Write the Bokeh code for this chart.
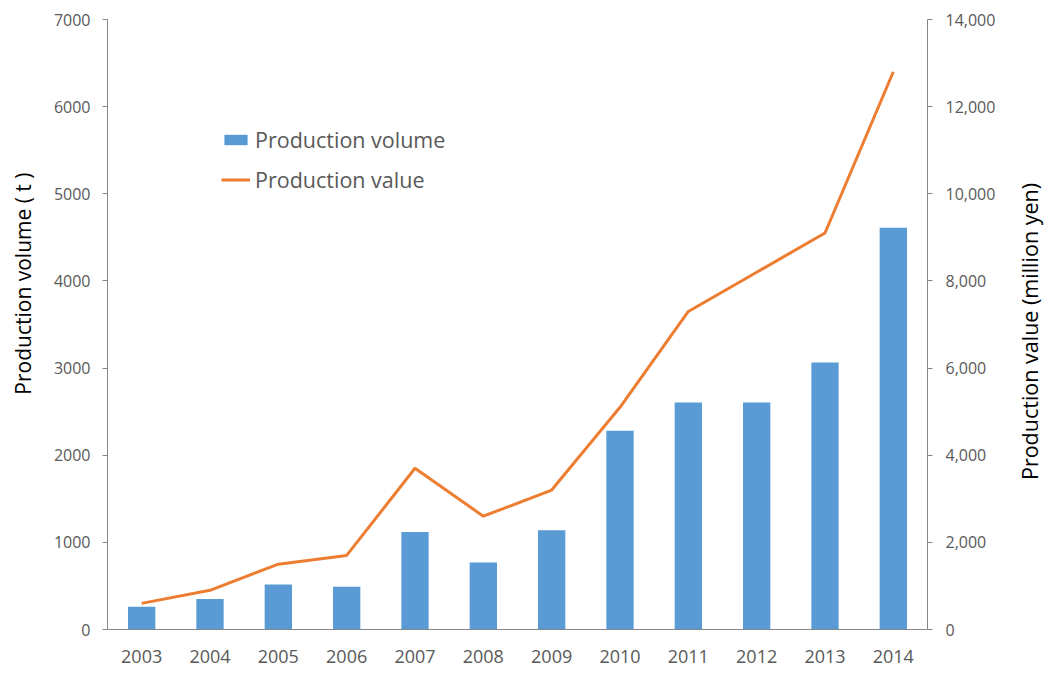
import math
from bokeh.plotting import figure
from bokeh.models import (FactorRange, Range1d, LinearAxis, FixedTicker, NumeralTickFormatter,
                          Legend, LegendItem, ColumnDataSource, Label)
from bokeh.embed import file_html
from bokeh.resources import INLINE

years = ["2003", "2004", "2005", "2006", "2007", "2008", "2009", "2010", "2011", "2012", "2013", "2014"]
volume_t = [260, 350, 517, 490, 1120, 770, 1140, 2280, 2605, 2605, 3065, 4610]
value_million_yen = [600, 900, 1500, 1700, 3700, 2600, 3200, 5100, 7300, 8200, 9100, 12800]
left_ticks = [0, 1000, 2000, 3000, 4000, 5000, 6000, 7000]
right_ticks = [0, 2000, 4000, 6000, 8000, 10000, 12000, 14000]
left_title = "Production volume ( t )"
right_title = "Production value (million yen)"

FONT = "Open Sans"
TICK_COLOR = "#595959"
AXIS_COLOR = "#868686"
BLUE = "#5B9BD5"
ORANGE = "#ED7D31"
NBSP = "\u00a0"

src = ColumnDataSource(dict(year=years, vol=volume_t, val=value_million_yen))

W, H = 1050, 672
p = figure(width=W, height=H, x_range=FactorRange(*years, range_padding=0),
           y_range=Range1d(0, 7000), output_backend="svg", toolbar_location=None,
           min_border_left=107, min_border_right=W - 927, min_border_top=19, min_border_bottom=H - 629)
p.extra_y_ranges = {"right": Range1d(0, 14000)}
p.outline_line_color = None
p.xgrid.visible = False
p.ygrid.visible = False

bars = p.vbar(x="year", top="vol", width=0.4, source=src, fill_color=BLUE, line_color=None)
line = p.line(x="year", y="val", source=src, y_range_name="right", line_color=ORANGE, line_width=3)

def style(ax):
    ax.axis_line_color = AXIS_COLOR
    ax.major_tick_line_color = AXIS_COLOR
    ax.minor_tick_line_color = None
    ax.major_tick_in = 0
    ax.major_tick_out = 5
    ax.major_label_text_font = FONT
    ax.major_label_text_font_size = "16px"
    ax.major_label_text_color = TICK_COLOR
    ax.axis_label_text_font = FONT
    ax.axis_label_text_font_style = "normal"
    ax.axis_label_text_color = "#000000"

xa = p.xaxis[0]
style(xa)
xa.major_tick_out = 0
xa.major_label_text_font_size = "18px"
xa.major_label_standoff = 20

ya = p.yaxis[0]
style(ya)
ya.ticker = FixedTicker(ticks=left_ticks)
ya.major_label_standoff = 12
ya.axis_label = NBSP * 15 + left_title
ya.axis_label_text_font_size = "21px"
ya.axis_label_standoff = 14

ra = LinearAxis(y_range_name="right", ticker=FixedTicker(ticks=right_ticks),
                formatter=NumeralTickFormatter(format="0,0"))
style(ra)
ra.major_label_standoff = 13
p.add_layout(ra, "right")

p.add_layout(Label(x=31, y=298, x_units="screen", y_units="screen", angle=math.pi / 2,
                   text=right_title, text_font=FONT, text_font_size="21.5px",
                   text_color="#000000", text_align="center", text_baseline="middle"), "right")

legend = Legend(items=[LegendItem(label="Production volume", renderers=[bars]),
                       LegendItem(label="Production value", renderers=[line])],
                location=(114, 435), orientation="vertical",
                label_text_font=FONT, label_text_font_size="21.5px", label_text_color=TICK_COLOR,
                glyph_width=29, glyph_height=13, label_standoff=5, spacing=11,
                padding=0, margin=0, border_line_color=None, background_fill_alpha=0)
p.add_layout(legend, "center")

open("out.html", "w").write(file_html(p, INLINE))
